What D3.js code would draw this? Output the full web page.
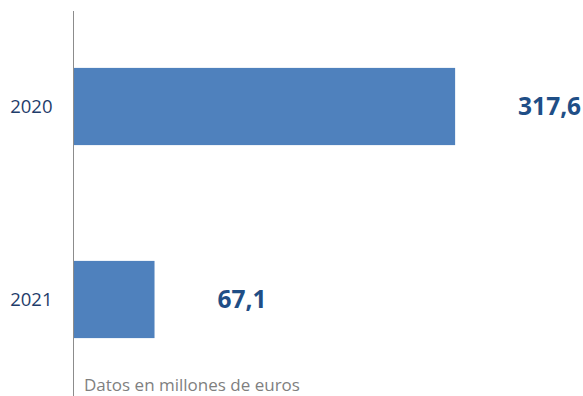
<!DOCTYPE html>
<html>
<head>
<meta charset="utf-8">
<script src="https://cdn.jsdelivr.net/npm/d3@7"></script>
<style>
  html, body { margin: 0; padding: 0; background: #fff; }
  svg { display: block; }
</style>
</head>
<body>
<svg id="chart" width="583" height="396"></svg>
<script>
// Importe por año (millones de euros)
const years = ["2020", "2021"];
const values = [317.6, 67.1];
const note = "Datos en millones de euros";

const width = 583, height = 396;
const svg = d3.select("#chart");

const esLocale = d3.formatLocale({ decimal: ",", thousands: ".", grouping: [3], currency: ["", " €"] });
const fmt = esLocale.format(".1f");

const y = d3.scaleBand()
  .domain(years)
  .range([10, 396])
  .paddingInner(0.6)
  .paddingOuter(0.3);

const x = d3.scaleLinear()
  .domain([0, 400])
  .range([74, 554]);

const data = years.map((yr, i) => ({ year: yr, value: values[i] }));

// Bars
svg.append("g")
  .selectAll("rect")
  .data(data)
  .join("rect")
  .attr("x", x(0))
  .attr("y", d => y(d.year))
  .attr("width", d => x(d.value) - x(0))
  .attr("height", y.bandwidth())
  .attr("fill", "#4F81BD");

// Category axis
const yAxis = d3.axisLeft(y).tickSize(0).tickPadding(21);
const gy = svg.append("g")
  .attr("transform", `translate(${x(0) - 0.5},0)`)
  .call(yAxis);
gy.select(".domain").remove();
gy.selectAll("text")
  .attr("font-family", "'Open Sans', sans-serif")
  .attr("font-size", 18.5)
  .attr("fill", "#1F3D6B")
  .attr("dy", "0.36em");

svg.append("line")
  .attr("x1", x(0) - 0.5).attr("x2", x(0) - 0.5)
  .attr("y1", 11).attr("y2", height)
  .attr("stroke", "#8C8C8C")
  .attr("stroke-width", 1);

// Value labels
svg.append("g")
  .selectAll("text")
  .data(data)
  .join("text")
  .attr("x", d => x(d.value) + 63)
  .attr("y", d => y(d.year) + y.bandwidth() / 2)
  .attr("dy", "0.36em")
  .attr("font-family", "'Open Sans', sans-serif")
  .attr("font-weight", "bold")
  .attr("font-size", 24.5)
  .attr("fill", "#1F4E86")
  .text(d => fmt(d.value));

// Footnote
svg.append("text")
  .attr("x", 84)
  .attr("y", 391)
  .attr("font-family", "'Open Sans', sans-serif")
  .attr("font-size", 17)
  .attr("fill", "#7F7F7F")
  .text(note);
</script>
</body>
</html>
